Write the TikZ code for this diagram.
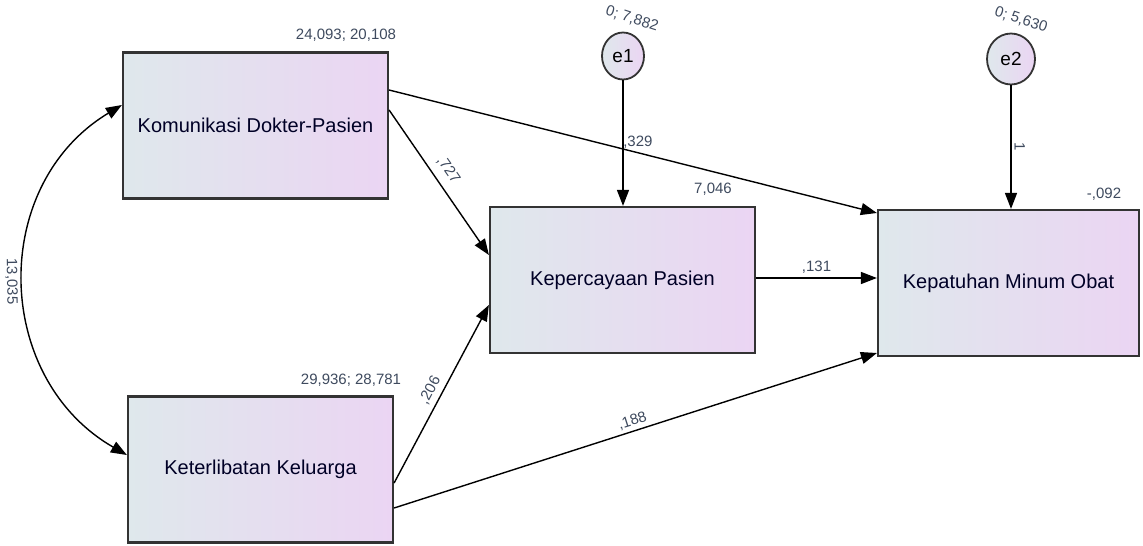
\documentclass[tikz,border=0pt]{standalone}
\usepackage{fontspec}
\setmainfont{Liberation Sans}
\usetikzlibrary{
  arrows.meta,
  shapes.geometric
}
\definecolor{boxleft}{HTML}{DFE8EC}
\definecolor{boxright}{HTML}{EBD5F3}
\definecolor{boxline}{HTML}{333333}
\definecolor{numtext}{HTML}{3E4A5E}
\tikzset{
  obsvar/.style={
    rectangle,
    draw=boxline,
    line width=2.2pt,
    left color=boxleft,
    right color=boxright,
    minimum width=265pt,
    minimum height=146pt,
    text=black!85!blue,
    font=\fontsize{20}{24}\selectfont
  },
  errorterm/.style={
    ellipse,
    draw=boxline,
    line width=1.8pt,
    left color=boxleft,
    right color=boxright,
    inner sep=0pt,
    font=\fontsize{19}{22}\selectfont
  },
  regline/.style={
    line width=1.4pt,
    -{Triangle[length=16pt,width=12pt]}
  },
  covline/.style={
    line width=1.4pt,
    {Triangle[length=16pt,width=12pt]}-{Triangle[length=16pt,width=12pt]}
  },
  estimate/.style={
    text=numtext,
    inner sep=1pt,
    font=\fontsize{15}{18}\selectfont
  }
}

\begin{document}
\begin{tikzpicture}[x=1pt, y=-1pt]
      \useasboundingbox (0,0) rectangle (1143,546);
      % observed variables
      \node[obsvar] (kdp) at (255.5,125.5) {Komunikasi Dokter-Pasien};
      \node[obsvar] (kk) at (260.5,469.5) {Keterlibatan Keluarga};
      \node[obsvar] (kp) at (622.5,280) {Kepercayaan Pasien};
      \node[obsvar, minimum width=261pt] (kmo) at (1008.5,283) {Kepatuhan Minum Obat};
      % error terms
      \node[errorterm, minimum width=42pt, minimum height=47pt] (e1) at (623,56) {e1};
      \node[errorterm, minimum width=48pt, minimum height=51pt] (e2) at (1011,59) {e2};
      % means and variances
      \node[estimate] (vkdp) at (346,35) {24,093; 20,108};
      \node[estimate] (vkk) at (351,380) {29,936; 28,781};
      \node[estimate] (ikp) at (713,189) {7,046};
      \node[estimate] (ikmo) at (1104,194) {-,092};
      \node[estimate, rotate=-18] (ve1) at (632,19) {0; 7,882};
      \node[estimate, rotate=-18] (ve2) at (1021,20) {0; 5,630};
      % paths
      \draw[covline] ([yshift=20.5pt]kdp.west) .. controls (-11,185) and (-7,378) .. ([yshift=14.5pt]kk.west)
        node[estimate, pos=0.5, sloped, below=5pt] (ccov) {13,035};
      \draw[regline] ([yshift=15.5pt]kdp.east) -- ([yshift=25pt]kp.west)
        node[estimate, pos=0.47, sloped, above=7pt] (b1) {,727};
      \draw[regline] ([yshift=35.5pt]kdp.east) -- ([yshift=70pt]kmo.west)
        node[estimate, pos=0.51, above=3pt] (b2) {,329};
      \draw[regline] ([yshift=-13.5pt]kk.east) -- ([yshift=-25pt]kp.west)
        node[estimate, pos=0.49, sloped, above=4pt] (b3) {,206};
      \draw[regline] ([yshift=-38.5pt]kk.east) -- ([yshift=-70pt]kmo.west)
        node[estimate, pos=0.5, sloped, above=2pt] (b4) {,188};
      \draw[regline] (kp.east |- 0,278) -- (kmo.west |- 0,278)
        node[estimate, pos=0.5, above=3pt] (b5) {,131};
      \draw[regline] (e1) -- (e1 |- kp.north);
      \draw[regline] (e2) -- (e2 |- kmo.north)
        node[estimate, pos=0.5, sloped, above=2pt] (w2) {1};
    \end{tikzpicture}
\end{document}
